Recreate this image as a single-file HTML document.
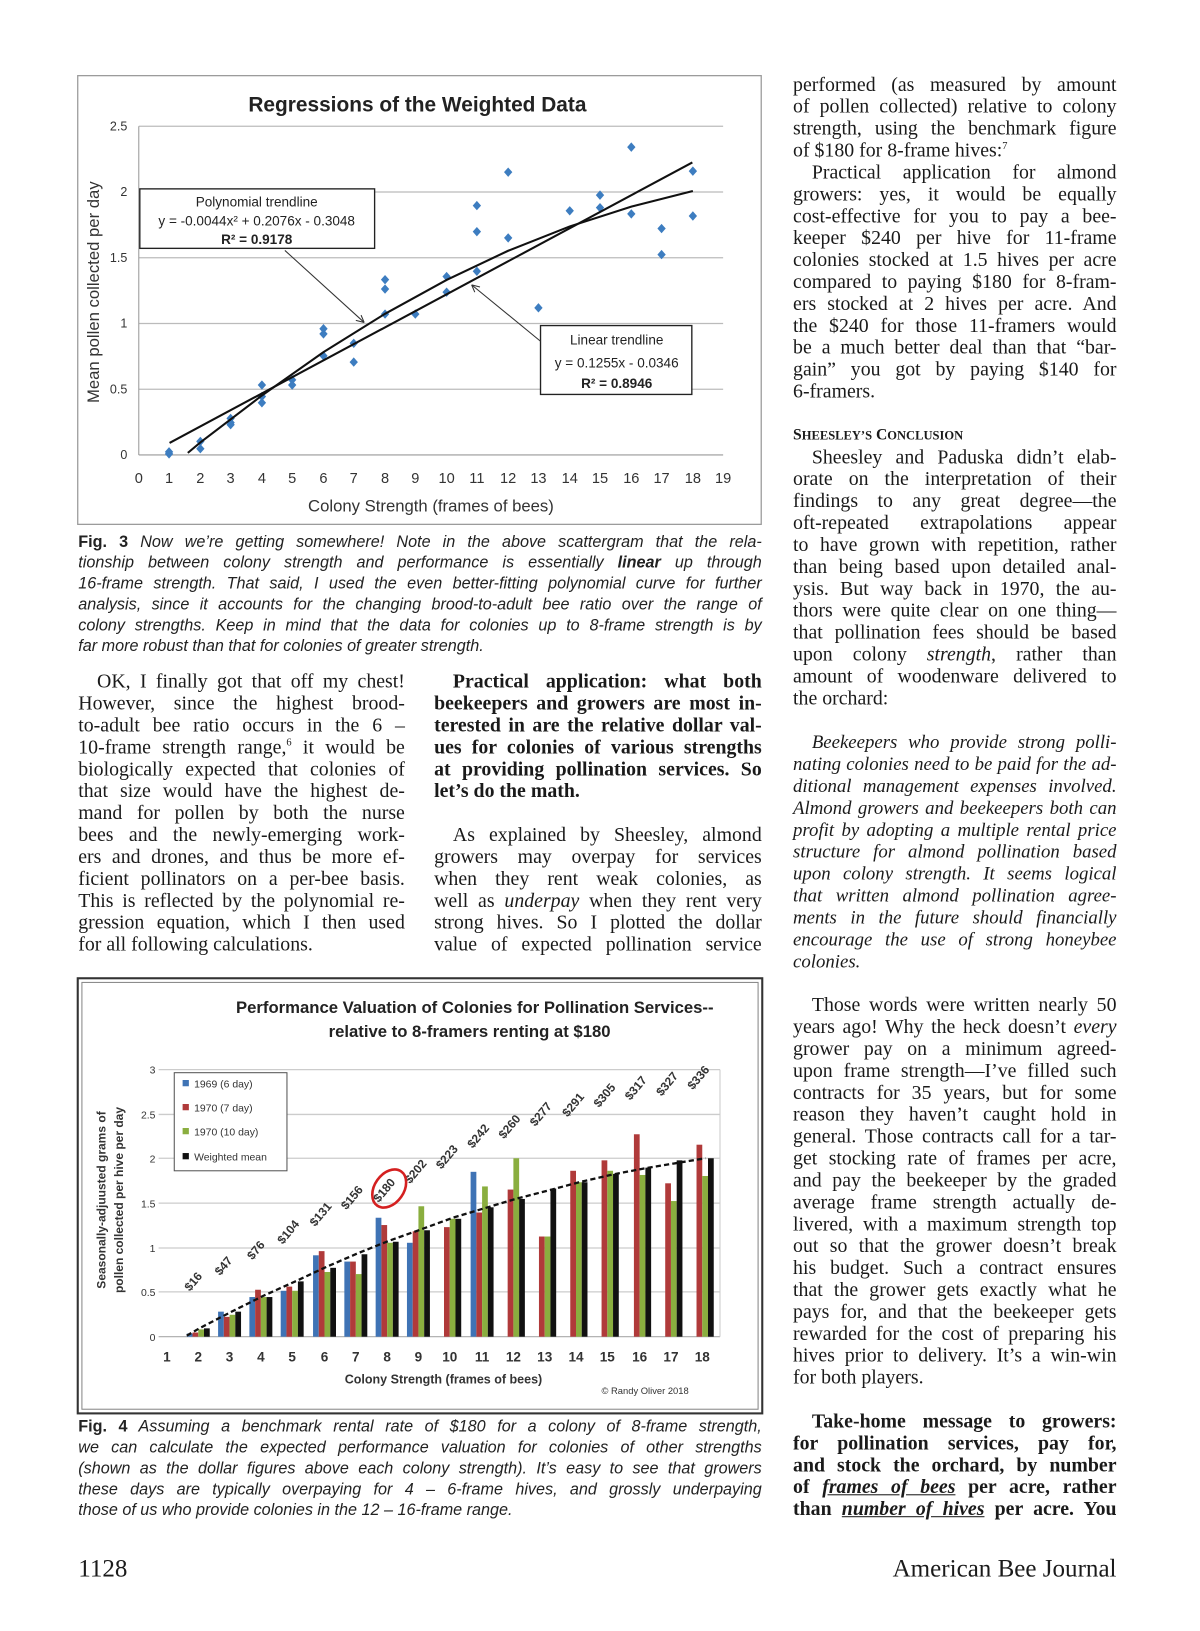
<!DOCTYPE html>
<html><head><meta charset="utf-8">
<style>
html,body{margin:0;background:#fff;overflow:hidden;width:1200px;height:1631px;}
#pg{position:relative;width:1150px;height:1563px;overflow:hidden;background:#fff;font-family:"Liberation Serif",serif;color:#1a1a1a;transform:scale(1.04348);transform-origin:0 0;}
.l{position:absolute;font-size:19px;line-height:21px;height:21px;white-space:nowrap;text-align:justify;text-align-last:justify;}
.R{left:760px;width:310px;}
.A{left:75px;width:313px;}
.B{left:416px;width:314px;}
.ind{text-indent:18px;}
.it{font-style:italic;font-size:18px;}
.b{font-weight:bold;}
.c{position:absolute;left:75px;width:655px;font-family:"Liberation Sans",sans-serif;font-style:italic;font-size:15.5px;line-height:20px;height:20px;white-space:nowrap;text-align:justify;text-align-last:justify;color:#222;}
.c b{font-style:normal;}
.l.e,.c.e{text-align-last:left;}
svg{position:absolute;left:0;top:0;}
svg text{font-family:"Liberation Sans",sans-serif;}
</style></head><body><div id="pg">
<svg width="1150" height="1563" viewBox="0 0 1150 1563">
<!-- Chart 1 -->
<rect x="74.5" y="72.5" width="655" height="430" fill="#fff" stroke="#999" stroke-width="1.2"/>
<text x="400" y="107" font-size="20" font-weight="bold" text-anchor="middle" fill="#222">Regressions of the Weighted Data</text>
<g stroke="#bbb" stroke-width="1.2">
<line x1="133" y1="121" x2="693" y2="121"/><line x1="133" y1="184" x2="693" y2="184"/><line x1="133" y1="247" x2="693" y2="247"/><line x1="133" y1="310" x2="693" y2="310"/><line x1="133" y1="373" x2="693" y2="373"/>
</g>
<line x1="133" y1="121" x2="133" y2="436" stroke="#999"/>
<line x1="133" y1="436" x2="693" y2="436" stroke="#999"/>
<g font-size="12" fill="#333" text-anchor="end">
<text x="122" y="125">2.5</text><text x="122" y="188">2</text><text x="122" y="251">1.5</text><text x="122" y="314">1</text><text x="122" y="377">0.5</text><text x="122" y="440">0</text>
</g>
<g font-size="14" fill="#333" text-anchor="middle">
<text x="133" y="463">0</text><text x="162" y="463">1</text><text x="192" y="463">2</text><text x="221" y="463">3</text><text x="251" y="463">4</text><text x="280" y="463">5</text><text x="310" y="463">6</text><text x="339" y="463">7</text><text x="369" y="463">8</text><text x="398" y="463">9</text><text x="428" y="463">10</text><text x="457" y="463">11</text><text x="487" y="463">12</text><text x="516" y="463">13</text><text x="546" y="463">14</text><text x="575" y="463">15</text><text x="605" y="463">16</text><text x="634" y="463">17</text><text x="664" y="463">18</text><text x="693" y="463">19</text>
</g>
<text x="413" y="490" font-size="16" text-anchor="middle" fill="#333">Colony Strength (frames of bees)</text>
<text transform="translate(95,280) rotate(-90)" font-size="16" text-anchor="middle" fill="#333">Mean pollen collected per day</text>
<g fill="#3d7dc0">
<path d="M0,-4.5 L4,0 L0,4.5 L-4,0Z" transform="translate(162,435)"/>
<path d="M0,-4.5 L4,0 L0,4.5 L-4,0Z" transform="translate(162,433)"/>
<path d="M0,-4.5 L4,0 L0,4.5 L-4,0Z" transform="translate(192,423)"/>
<path d="M0,-4.5 L4,0 L0,4.5 L-4,0Z" transform="translate(192,430)"/>
<path d="M0,-4.5 L4,0 L0,4.5 L-4,0Z" transform="translate(221,401)"/>
<path d="M0,-4.5 L4,0 L0,4.5 L-4,0Z" transform="translate(221,405)"/>
<path d="M0,-4.5 L4,0 L0,4.5 L-4,0Z" transform="translate(221,407)"/>
<path d="M0,-4.5 L4,0 L0,4.5 L-4,0Z" transform="translate(251,369)"/>
<path d="M0,-4.5 L4,0 L0,4.5 L-4,0Z" transform="translate(251,386)"/>
<path d="M0,-4.5 L4,0 L0,4.5 L-4,0Z" transform="translate(251,380)"/>
<path d="M0,-4.5 L4,0 L0,4.5 L-4,0Z" transform="translate(280,364)"/>
<path d="M0,-4.5 L4,0 L0,4.5 L-4,0Z" transform="translate(280,369)"/>
<path d="M0,-4.5 L4,0 L0,4.5 L-4,0Z" transform="translate(310,315)"/>
<path d="M0,-4.5 L4,0 L0,4.5 L-4,0Z" transform="translate(310,320)"/>
<path d="M0,-4.5 L4,0 L0,4.5 L-4,0Z" transform="translate(310,341)"/>
<path d="M0,-4.5 L4,0 L0,4.5 L-4,0Z" transform="translate(339,329)"/>
<path d="M0,-4.5 L4,0 L0,4.5 L-4,0Z" transform="translate(339,347)"/>
<path d="M0,-4.5 L4,0 L0,4.5 L-4,0Z" transform="translate(369,268)"/>
<path d="M0,-4.5 L4,0 L0,4.5 L-4,0Z" transform="translate(369,277)"/>
<path d="M0,-4.5 L4,0 L0,4.5 L-4,0Z" transform="translate(369,301)"/>
<path d="M0,-4.5 L4,0 L0,4.5 L-4,0Z" transform="translate(398,301)"/>
<path d="M0,-4.5 L4,0 L0,4.5 L-4,0Z" transform="translate(428,265)"/>
<path d="M0,-4.5 L4,0 L0,4.5 L-4,0Z" transform="translate(428,280)"/>
<path d="M0,-4.5 L4,0 L0,4.5 L-4,0Z" transform="translate(457,197)"/>
<path d="M0,-4.5 L4,0 L0,4.5 L-4,0Z" transform="translate(457,222)"/>
<path d="M0,-4.5 L4,0 L0,4.5 L-4,0Z" transform="translate(457,260)"/>
<path d="M0,-4.5 L4,0 L0,4.5 L-4,0Z" transform="translate(487,165)"/>
<path d="M0,-4.5 L4,0 L0,4.5 L-4,0Z" transform="translate(487,228)"/>
<path d="M0,-4.5 L4,0 L0,4.5 L-4,0Z" transform="translate(516,295)"/>
<path d="M0,-4.5 L4,0 L0,4.5 L-4,0Z" transform="translate(546,202)"/>
<path d="M0,-4.5 L4,0 L0,4.5 L-4,0Z" transform="translate(575,187)"/>
<path d="M0,-4.5 L4,0 L0,4.5 L-4,0Z" transform="translate(575,199)"/>
<path d="M0,-4.5 L4,0 L0,4.5 L-4,0Z" transform="translate(605,141)"/>
<path d="M0,-4.5 L4,0 L0,4.5 L-4,0Z" transform="translate(605,205)"/>
<path d="M0,-4.5 L4,0 L0,4.5 L-4,0Z" transform="translate(634,219)"/>
<path d="M0,-4.5 L4,0 L0,4.5 L-4,0Z" transform="translate(634,244)"/>
<path d="M0,-4.5 L4,0 L0,4.5 L-4,0Z" transform="translate(664,164)"/>
<path d="M0,-4.5 L4,0 L0,4.5 L-4,0Z" transform="translate(664,207)"/>
</g>
<line x1="162.5" y1="424.5" x2="663.5" y2="155.7" stroke="#111" stroke-width="2"/>
<polyline points="180,434 192,424 251,379 310,337.5 369,300.7 428,268.3 487,240.3 546,217 605,198 664,183" fill="none" stroke="#111" stroke-width="2"/>
<rect x="134" y="181" width="225" height="57" fill="#fff" stroke="#222" stroke-width="1.3"/>
<text x="246" y="198" font-size="13" text-anchor="middle" fill="#222">Polynomial trendline</text>
<text x="246" y="216" font-size="13" text-anchor="middle" fill="#222">y = -0.0044x² + 0.2076x - 0.3048</text>
<text x="246" y="234" font-size="13" font-weight="bold" text-anchor="middle" fill="#222">R² = 0.9178</text>
<rect x="518" y="312" width="145" height="66" fill="#fff" stroke="#222" stroke-width="1.3"/>
<text x="591" y="330" font-size="13" text-anchor="middle" fill="#222">Linear trendline</text>
<text x="591" y="352" font-size="13" text-anchor="middle" fill="#222">y = 0.1255x - 0.0346</text>
<text x="591" y="372" font-size="13" font-weight="bold" text-anchor="middle" fill="#222">R² = 0.8946</text>
<line x1="273" y1="240" x2="349" y2="309" stroke="#333"/>
<path d="M349,309 l-8,-2 M349,309 l-3,-7" stroke="#333"/>
<line x1="518" y1="327" x2="452" y2="273" stroke="#333"/>
<path d="M452,273 l8,2 M452,273 l3,7" stroke="#333"/>

<!-- Chart 2 -->
<rect x="74.5" y="937.5" width="656" height="417" fill="#fff" stroke="#333" stroke-width="2"/>
<rect x="78.5" y="941.5" width="648" height="409" fill="none" stroke="#888" stroke-width="1"/>
<text x="455" y="971" font-size="16" font-weight="bold" text-anchor="middle" fill="#222">Performance Valuation of Colonies for Pollination Services--</text>
<text x="450" y="994" font-size="16" font-weight="bold" text-anchor="middle" fill="#222">relative to 8-framers renting at $180</text>
<g stroke="#ccc" stroke-width="1.2">
<line x1="152" y1="1025" x2="690" y2="1025"/><line x1="152" y1="1068" x2="690" y2="1068"/><line x1="152" y1="1110" x2="690" y2="1110"/><line x1="152" y1="1153" x2="690" y2="1153"/><line x1="152" y1="1196" x2="690" y2="1196"/><line x1="152" y1="1238" x2="690" y2="1238"/>
</g>
<line x1="152" y1="1281" x2="690" y2="1281" stroke="#aaa"/>
<line x1="690" y1="1025" x2="690" y2="1281" stroke="#ccc"/>
<g font-size="10" fill="#333" text-anchor="end">
<text x="149" y="1029">3</text><text x="149" y="1072">2.5</text><text x="149" y="1114">2</text><text x="149" y="1157">1.5</text><text x="149" y="1200">1</text><text x="149" y="1242">0.5</text><text x="149" y="1285">0</text>
</g>
<g font-size="13" font-weight="bold" fill="#333" text-anchor="middle">
<text x="160" y="1305">1</text><text x="190" y="1305">2</text><text x="220" y="1305">3</text><text x="250" y="1305">4</text><text x="280" y="1305">5</text><text x="311" y="1305">6</text><text x="341" y="1305">7</text><text x="371" y="1305">8</text><text x="401" y="1305">9</text><text x="431" y="1305">10</text><text x="462" y="1305">11</text><text x="492" y="1305">12</text><text x="522" y="1305">13</text><text x="552" y="1305">14</text><text x="582" y="1305">15</text><text x="613" y="1305">16</text><text x="643" y="1305">17</text><text x="673" y="1305">18</text>
</g>
<text x="425" y="1326" font-size="12" font-weight="bold" text-anchor="middle" fill="#333">Colony Strength (frames of bees)</text>
<text x="660" y="1336" font-size="9" text-anchor="end" fill="#333">© Randy Oliver 2018</text>
<text transform="translate(101,1150) rotate(-90)" font-size="11.5" font-weight="bold" text-anchor="middle" fill="#333">Seasonally-adjuusted grams of</text>
<text transform="translate(118,1150) rotate(-90)" font-size="11.5" font-weight="bold" text-anchor="middle" fill="#333">pollen collected per hive per day</text>
<g fill="#3f73b5">
<rect x="179" y="1278" width="5.5" height="3"/><rect x="209" y="1257" width="5.5" height="24"/><rect x="239" y="1243" width="5.5" height="38"/><rect x="269" y="1237" width="5.5" height="44"/><rect x="300" y="1203" width="5.5" height="78"/><rect x="330" y="1209" width="5.5" height="72"/><rect x="360" y="1167" width="5.5" height="114"/><rect x="390" y="1191" width="5.5" height="90"/><rect x="451" y="1123" width="5.5" height="158"/>
</g>
<g fill="#b03a3a">
<rect x="184.5" y="1277" width="5.5" height="4"/><rect x="214.5" y="1262" width="5.5" height="19"/><rect x="244.5" y="1236" width="5.5" height="45"/><rect x="274.5" y="1233" width="5.5" height="48"/><rect x="305.5" y="1199" width="5.5" height="82"/><rect x="335.5" y="1209" width="5.5" height="72"/><rect x="365.5" y="1174" width="5.5" height="107"/><rect x="395.5" y="1180" width="5.5" height="101"/><rect x="425.5" y="1176" width="5.5" height="105"/><rect x="456.5" y="1162" width="5.5" height="119"/><rect x="486.5" y="1140" width="5.5" height="141"/><rect x="516.5" y="1185" width="5.5" height="96"/><rect x="546.5" y="1122" width="5.5" height="159"/><rect x="576.5" y="1112" width="5.5" height="169"/><rect x="607.5" y="1087" width="5.5" height="194"/><rect x="637.5" y="1134" width="5.5" height="147"/><rect x="667.5" y="1097" width="5.5" height="184"/>
</g>
<g fill="#8aae3f">
<rect x="190" y="1274" width="5.5" height="7"/><rect x="220" y="1260" width="5.5" height="21"/><rect x="250" y="1243" width="5.5" height="38"/><rect x="280" y="1237" width="5.5" height="44"/><rect x="311" y="1219" width="5.5" height="62"/><rect x="341" y="1221" width="5.5" height="60"/><rect x="371" y="1191" width="5.5" height="90"/><rect x="401" y="1156" width="5.5" height="125"/><rect x="431" y="1168" width="5.5" height="113"/><rect x="462" y="1137" width="5.5" height="144"/><rect x="492" y="1110" width="5.5" height="171"/><rect x="522" y="1185" width="5.5" height="96"/><rect x="552" y="1133" width="5.5" height="148"/><rect x="582" y="1122" width="5.5" height="159"/><rect x="613" y="1126" width="5.5" height="155"/><rect x="643" y="1151" width="5.5" height="130"/><rect x="673" y="1127" width="5.5" height="154"/>
</g>
<g fill="#111">
<rect x="195.5" y="1273" width="5.5" height="8"/><rect x="225.5" y="1257" width="5.5" height="24"/><rect x="255.5" y="1243" width="5.5" height="38"/><rect x="285.5" y="1228" width="5.5" height="53"/><rect x="316.5" y="1215" width="5.5" height="66"/><rect x="346.5" y="1202" width="5.5" height="79"/><rect x="376.5" y="1190" width="5.5" height="91"/><rect x="406.5" y="1179" width="5.5" height="102"/><rect x="436.5" y="1168" width="5.5" height="113"/><rect x="467.5" y="1157" width="5.5" height="124"/><rect x="497.5" y="1149" width="5.5" height="132"/><rect x="527.5" y="1139" width="5.5" height="142"/><rect x="557.5" y="1133" width="5.5" height="148"/><rect x="587.5" y="1125" width="5.5" height="156"/><rect x="618.5" y="1119" width="5.5" height="162"/><rect x="648.5" y="1112" width="5.5" height="169"/><rect x="678.5" y="1110" width="5.5" height="171"/>
</g>
<polyline points="179,1280 191,1273 222,1257 252,1242 283,1228 313,1214 343,1201 373,1189 404,1178 434,1167 464,1158 494,1149 525,1141 555,1133 585,1126 616,1120 646,1115 676,1110" fill="none" stroke="#111" stroke-width="2.2" stroke-dasharray="5,3"/>
<rect x="167" y="1028" width="108" height="94" fill="#fff" stroke="#555"/>
<rect x="175" y="1035" width="6" height="6" fill="#3f73b5"/><text x="186" y="1042" font-size="10" fill="#333">1969 (6 day)</text>
<rect x="175" y="1058" width="6" height="6" fill="#b03a3a"/><text x="186" y="1065" font-size="10" fill="#333">1970 (7 day)</text>
<rect x="175" y="1081" width="6" height="6" fill="#8aae3f"/><text x="186" y="1088" font-size="10" fill="#333">1970 (10 day)</text>
<rect x="175" y="1105" width="6" height="6" fill="#111"/><text x="186" y="1112" font-size="10" fill="#333">Weighted mean</text>
<g font-size="11.5" font-weight="bold" fill="#333">
<text transform="translate(182,1238) rotate(-50)">$16</text>
<text transform="translate(211,1223) rotate(-50)">$47</text>
<text transform="translate(242,1208) rotate(-50)">$76</text>
<text transform="translate(271,1193) rotate(-50)">$104</text>
<text transform="translate(302,1176) rotate(-50)">$131</text>
<text transform="translate(332,1160) rotate(-50)">$156</text>
<text transform="translate(363,1153) rotate(-50)">$180</text>
<text transform="translate(393,1135) rotate(-50)">$202</text>
<text transform="translate(423,1121) rotate(-50)">$223</text>
<text transform="translate(453,1101) rotate(-50)">$242</text>
<text transform="translate(483,1092) rotate(-50)">$260</text>
<text transform="translate(513,1080) rotate(-50)">$277</text>
<text transform="translate(544,1071) rotate(-50)">$291</text>
<text transform="translate(574,1062) rotate(-50)">$305</text>
<text transform="translate(604,1055) rotate(-50)">$317</text>
<text transform="translate(634,1051) rotate(-50)">$327</text>
<text transform="translate(664,1045) rotate(-50)">$336</text>
</g>
<ellipse cx="373" cy="1139" rx="14" ry="20" transform="rotate(35 373 1139)" fill="none" stroke="#d42020" stroke-width="2.5"/>
</svg>

<!-- Fig 3 caption -->
<div class="c" style="top:510px"><b>Fig. 3</b> Now we’re getting somewhere! Note in the above scattergram that the rela-</div>
<div class="c" style="top:530px">tionship between colony strength and performance is essentially <b style="font-style:italic">linear</b> up through</div>
<div class="c" style="top:550px">16-frame strength. That said, I used the even better-fitting polynomial curve for further</div>
<div class="c" style="top:570px">analysis, since it accounts for the changing brood-to-adult bee ratio over the range of</div>
<div class="c" style="top:590px">colony strengths. Keep in mind that the data for colonies up to 8-frame strength is by</div>
<div class="c e" style="top:610px">far more robust than that for colonies of greater strength.</div>

<!-- Left col -->
<div class="l A ind" style="top:643px">OK, I finally got that off my chest!</div>
<div class="l A" style="top:664px">However, since the highest brood-</div>
<div class="l A" style="top:685px">to-adult bee ratio occurs in the 6 –</div>
<div class="l A" style="top:706px">10-frame strength range,<sup style="font-size:10px;line-height:0">6</sup> it would be</div>
<div class="l A" style="top:727px">biologically expected that colonies of</div>
<div class="l A" style="top:748px">that size would have the highest de-</div>
<div class="l A" style="top:769px">mand for pollen by both the nurse</div>
<div class="l A" style="top:790px">bees and the newly-emerging work-</div>
<div class="l A" style="top:811px">ers and drones, and thus be more ef-</div>
<div class="l A" style="top:832px">ficient pollinators on a per-bee basis.</div>
<div class="l A" style="top:853px">This is reflected by the polynomial re-</div>
<div class="l A" style="top:874px">gression equation, which I then used</div>
<div class="l A e" style="top:895px">for all following calculations.</div>

<!-- Middle col -->
<div class="l B ind b" style="top:643px">Practical application: what both</div>
<div class="l B b" style="top:664px">beekeepers and growers are most in-</div>
<div class="l B b" style="top:685px">terested in are the relative dollar val-</div>
<div class="l B b" style="top:706px">ues for colonies of various strengths</div>
<div class="l B b" style="top:727px">at providing pollination services. So</div>
<div class="l B b e" style="top:748px">let’s do the math.</div>
<div class="l B ind" style="top:790px">As explained by Sheesley, almond</div>
<div class="l B" style="top:811px">growers may overpay for services</div>
<div class="l B" style="top:832px">when they rent weak colonies, as</div>
<div class="l B" style="top:853px">well as <i>underpay</i> when they rent very</div>
<div class="l B" style="top:874px">strong hives. So I plotted the dollar</div>
<div class="l B" style="top:895px">value of expected pollination service</div>

<!-- Right col -->
<div class="l R" style="top:71px">performed (as measured by amount</div>
<div class="l R" style="top:92px">of pollen collected) relative to colony</div>
<div class="l R" style="top:113px">strength, using the benchmark figure</div>
<div class="l R e" style="top:134px">of $180 for 8-frame hives:<sup style="font-size:10px;line-height:0">7</sup></div>
<div class="l R ind" style="top:155px">Practical application for almond</div>
<div class="l R" style="top:176px">growers: yes, it would be equally</div>
<div class="l R" style="top:197px">cost-effective for you to pay a bee-</div>
<div class="l R" style="top:218px">keeper $240 per hive for 11-frame</div>
<div class="l R" style="top:239px">colonies stocked at 1.5 hives per acre</div>
<div class="l R" style="top:260px">compared to paying $180 for 8-fram-</div>
<div class="l R" style="top:281px">ers stocked at 2 hives per acre. And</div>
<div class="l R" style="top:302px">the $240 for those 11-framers would</div>
<div class="l R" style="top:323px">be a much better deal than that “bar-</div>
<div class="l R" style="top:344px">gain” you got by paying $140 for</div>
<div class="l R e" style="top:365px">6-framers.</div>
<div class="l R e b" style="top:407px;font-size:15px">S<span style="font-size:12px">HEESLEY’S</span> C<span style="font-size:12px">ONCLUSION</span></div>
<div class="l R ind" style="top:428px">Sheesley and Paduska didn’t elab-</div>
<div class="l R" style="top:449px">orate on the interpretation of their</div>
<div class="l R" style="top:470px">findings to any great degree—the</div>
<div class="l R" style="top:491px">oft-repeated extrapolations appear</div>
<div class="l R" style="top:512px">to have grown with repetition, rather</div>
<div class="l R" style="top:533px">than being based upon detailed anal-</div>
<div class="l R" style="top:554px">ysis. But way back in 1970, the au-</div>
<div class="l R" style="top:575px">thors were quite clear on one thing—</div>
<div class="l R" style="top:596px">that pollination fees should be based</div>
<div class="l R" style="top:617px">upon colony <i>strength</i>, rather than</div>
<div class="l R" style="top:638px">amount of woodenware delivered to</div>
<div class="l R e" style="top:659px">the orchard:</div>
<div class="l R it ind" style="top:701px">Beekeepers who provide strong polli-</div>
<div class="l R it" style="top:722px">nating colonies need to be paid for the ad-</div>
<div class="l R it" style="top:743px">ditional management expenses involved.</div>
<div class="l R it" style="top:764px">Almond growers and beekeepers both can</div>
<div class="l R it" style="top:785px">profit by adopting a multiple rental price</div>
<div class="l R it" style="top:806px">structure for almond pollination based</div>
<div class="l R it" style="top:827px">upon colony strength. It seems logical</div>
<div class="l R it" style="top:848px">that written almond pollination agree-</div>
<div class="l R it" style="top:869px">ments in the future should financially</div>
<div class="l R it" style="top:890px">encourage the use of strong honeybee</div>
<div class="l R it e" style="top:911px">colonies.</div>
<div class="l R ind" style="top:953px">Those words were written nearly 50</div>
<div class="l R" style="top:974px">years ago! Why the heck doesn’t <i>every</i></div>
<div class="l R" style="top:995px">grower pay on a minimum agreed-</div>
<div class="l R" style="top:1016px">upon frame strength—I’ve filled such</div>
<div class="l R" style="top:1037px">contracts for 35 years, but for some</div>
<div class="l R" style="top:1058px">reason they haven’t caught hold in</div>
<div class="l R" style="top:1079px">general. Those contracts call for a tar-</div>
<div class="l R" style="top:1100px">get stocking rate of frames per acre,</div>
<div class="l R" style="top:1121px">and pay the beekeeper by the graded</div>
<div class="l R" style="top:1142px">average frame strength actually de-</div>
<div class="l R" style="top:1163px">livered, with a maximum strength top</div>
<div class="l R" style="top:1184px">out so that the grower doesn’t break</div>
<div class="l R" style="top:1205px">his budget. Such a contract ensures</div>
<div class="l R" style="top:1226px">that the grower gets exactly what he</div>
<div class="l R" style="top:1247px">pays for, and that the beekeeper gets</div>
<div class="l R" style="top:1268px">rewarded for the cost of preparing his</div>
<div class="l R" style="top:1289px">hives prior to delivery. It’s a win-win</div>
<div class="l R e" style="top:1310px">for both players.</div>
<div class="l R b ind" style="top:1352px">Take-home message to growers:</div>
<div class="l R b" style="top:1373px">for pollination services, pay for,</div>
<div class="l R b" style="top:1394px">and stock the orchard, by number</div>
<div class="l R b" style="top:1415px">of <i><u>frames of bees</u></i> per acre, rather</div>
<div class="l R b" style="top:1436px">than <i><u>number of hives</u></i> per acre. You</div>

<!-- Fig 4 caption -->
<div class="c" style="top:1358px"><b>Fig. 4</b> Assuming a benchmark rental rate of $180 for a colony of 8-frame strength,</div>
<div class="c" style="top:1378px">we can calculate the expected performance valuation for colonies of other strengths</div>
<div class="c" style="top:1398px">(shown as the dollar figures above each colony strength). It’s easy to see that growers</div>
<div class="c" style="top:1418px">these days are typically overpaying for 4 – 6-frame hives, and grossly underpaying</div>
<div class="c e" style="top:1438px">those of us who provide colonies in the 12 – 16-frame range.</div>

<div style="position:absolute;left:75px;top:1491px;font-size:24px;">1128</div>
<div style="position:absolute;right:80px;top:1491px;font-size:24px;">American Bee Journal</div>
</div></body></html>
